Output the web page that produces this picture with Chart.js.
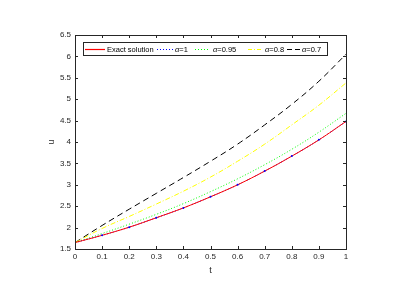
<!DOCTYPE html>
<html>
<head>
<meta charset="utf-8">
<script src="https://cdn.jsdelivr.net/npm/chart.js@4/dist/chart.umd.min.js"></script>
<style>
  html, body { margin: 0; padding: 0; background: #fff; }
  #wrap { width: 396px; height: 284px; }
</style>
</head>
<body>
<div id="wrap"><canvas id="chart" width="396" height="284"></canvas></div>
<script>
// values
const tValues = [0, 0.1, 0.2, 0.3, 0.4, 0.5, 0.6, 0.7, 0.8, 0.9, 1];
const exactU = [1.65, 1.82, 2.01, 2.23, 2.46, 2.72, 3.00, 3.32, 3.67, 4.05, 4.48];
const alpha1U = [1.65, 1.82, 2.01, 2.23, 2.46, 2.72, 3.00, 3.32, 3.67, 4.05, 4.48];
const alpha095U = [1.65, 1.86, 2.08, 2.31, 2.56, 2.84, 3.14, 3.47, 3.83, 4.23, 4.67];
const alpha08U = [1.65, 1.98, 2.26, 2.55, 2.85, 3.18, 3.55, 3.95, 4.40, 4.86, 5.38];
const alpha07U = [1.65, 2.05, 2.43, 2.80, 3.17, 3.55, 3.95, 4.40, 4.88, 5.42, 6.05];

const xTicks = [0, 0.1, 0.2, 0.3, 0.4, 0.5, 0.6, 0.7, 0.8, 0.9, 1];
const yTicks = [1.5, 2, 2.5, 3, 3.5, 4, 4.5, 5, 5.5, 6, 6.5];

const FONT = '"Liberation Sans", Arial, sans-serif';
const INK = "#262626";

function pts(ys) {
    return tValues.map((t, i) => ({ x: t, y: ys[i] }));
}

// legend entries drawn inside the plot box
const legendItems = [
    { color: "#ff0000", dash: [], italic: "", text: "Exact solution", x: 84, w: 20, tx: 107 },
    { color: "#0000ff", dash: [1, 2], italic: "α", text: "=1", x: 156, w: 16, tx: 175 },
    { color: "#00ff00", dash: [1, 2], italic: "α", text: "=0.95", x: 194, w: 15, tx: 213 },
    { color: "#ffff00", dash: [4, 2, 1, 2], italic: "α", text: "=0.8", x: 247, w: 14, tx: 265 },
    { color: "#000000", dash: [5, 3], italic: "α", text: "=0.7", x: 286, w: 13, tx: 302 }
];

const framePlugin = {
    id: "frame",
    afterDraw(chart) {
        const ctx = chart.ctx;
        const a = chart.chartArea;
        const xs = chart.scales.x, ys = chart.scales.y;
        ctx.save();
        ctx.strokeStyle = INK;
        ctx.lineWidth = 1;
        ctx.setLineDash([]);
        ctx.strokeRect(Math.round(a.left) + 0.5, Math.round(a.top) + 0.5,
            Math.round(a.right - a.left), Math.round(a.bottom - a.top));

        // inward ticks on all four sides
        ctx.beginPath();
        xTicks.forEach(v => {
            const px = Math.round(xs.getPixelForValue(v)) + 0.5;
            ctx.moveTo(px, a.bottom); ctx.lineTo(px, a.bottom - 3);
            ctx.moveTo(px, a.top); ctx.lineTo(px, a.top + 3);
        });
        yTicks.forEach(v => {
            const py = Math.round(ys.getPixelForValue(v)) + 0.5;
            ctx.moveTo(a.left, py); ctx.lineTo(a.left + 3, py);
            ctx.moveTo(a.right, py); ctx.lineTo(a.right - 3, py);
        });
        ctx.stroke();

        // axis titles
        ctx.fillStyle = INK;
        ctx.font = "9px " + FONT;
        ctx.textAlign = "center";
        ctx.textBaseline = "middle";
        ctx.fillText("t", (a.left + a.right) / 2, 271);
        ctx.save();
        ctx.translate(52, (a.top + a.bottom) / 2);
        ctx.rotate(-Math.PI / 2);
        ctx.fillText("u", 0, 0);
        ctx.restore();

        // legend box
        ctx.fillStyle = "#fff";
        ctx.fillRect(83, 42, 245, 14);
        ctx.strokeStyle = INK;
        ctx.strokeRect(83.5, 42.5, 244, 13);
        const cy = 49.5;
        legendItems.forEach(it => {
            ctx.strokeStyle = it.color;
            ctx.lineWidth = 1.2;
            ctx.setLineDash(it.dash);
            ctx.beginPath();
            ctx.moveTo(it.x + 1, cy);
            ctx.lineTo(it.x + 1 + it.w, cy);
            ctx.stroke();
            ctx.setLineDash([]);
            let tx = it.tx;
            ctx.fillStyle = "#000";
            ctx.textAlign = "left";
            if (it.italic) {
                ctx.font = "italic 7.5px " + FONT;
                ctx.fillText(it.italic, tx, cy);
                tx += ctx.measureText(it.italic).width;
            }
            ctx.font = "7.5px " + FONT;
            ctx.fillText(it.text, tx, cy);
        });
        ctx.restore();
    }
};

new Chart(document.getElementById("chart"), {
    type: "line",
    data: {
        datasets: [
            { label: "α=1 points", data: pts(alpha1U), borderColor: "#0000ff", backgroundColor: "#0000ff",
              showLine: false, pointRadius: 1, order: -1 },
            { label: "Exact solution", data: pts(exactU), borderColor: "#ff0000", order: 0 },
            { label: "α=1", data: pts(alpha1U), borderColor: "#0000ff", borderDash: [1, 2], order: 1 },
            { label: "α=0.95", data: pts(alpha095U), borderColor: "#00ff00", borderDash: [1, 2], order: 2 },
            { label: "α=0.8", data: pts(alpha08U), borderColor: "#ffff00", borderDash: [5, 2, 1, 2], order: 3 },
            { label: "α=0.7", data: pts(alpha07U), borderColor: "#000000", borderDash: [6, 4], order: 4 }
        ]
    },
    options: {
        responsive: false,
        animation: false,
        layout: { padding: { top: 35, right: 50, left: 0, bottom: 0 } },
        elements: {
            line: { borderWidth: 1, tension: 0.4, fill: false },
            point: { radius: 0, borderWidth: 0 }
        },
        plugins: { legend: { display: false }, tooltip: { enabled: false } },
        scales: {
            x: {
                type: "linear", min: 0, max: 1,
                afterFit: s => { s.height = 35; },
                afterBuildTicks: s => { s.ticks = xTicks.map(v => ({ value: v })); },
                grid: { display: false, drawTicks: false },
                border: { display: false },
                ticks: {
                    color: INK, padding: 3, maxRotation: 0, autoSkip: false,
                    font: { family: FONT, size: 8 },
                    callback: v => String(+v.toFixed(1))
                }
            },
            y: {
                type: "linear", min: 1.5, max: 6.5,
                afterFit: s => { s.width = 75; },
                afterBuildTicks: s => { s.ticks = yTicks.map(v => ({ value: v })); },
                grid: { display: false, drawTicks: false },
                border: { display: false },
                ticks: {
                    color: INK, padding: 4, autoSkip: false,
                    font: { family: FONT, size: 8 },
                    callback: v => String(v)
                }
            }
        }
    },
    plugins: [framePlugin]
});
</script>
</body>
</html>
